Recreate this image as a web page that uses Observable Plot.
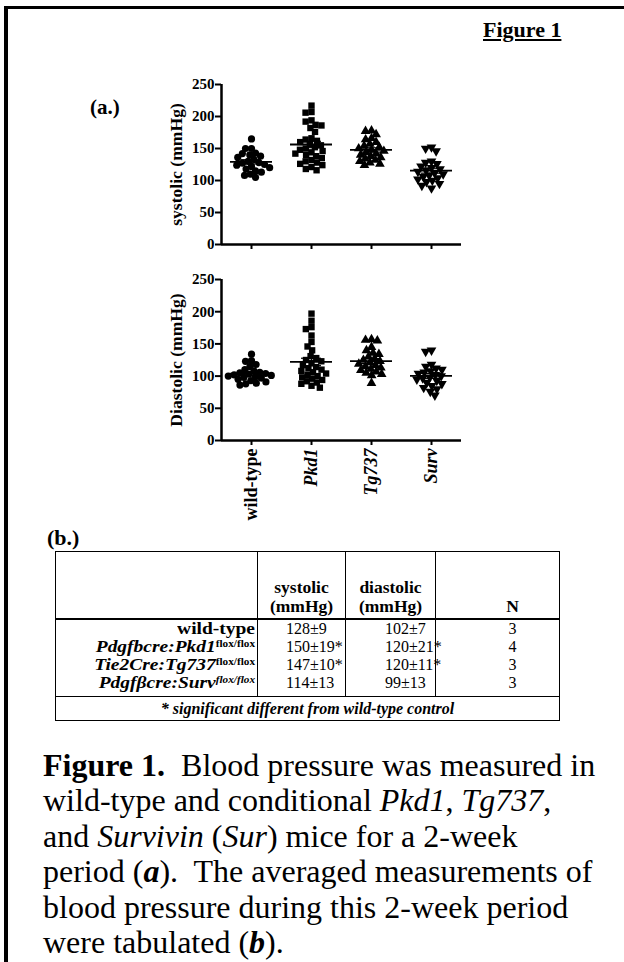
<!DOCTYPE html>
<html><head><meta charset="utf-8">
<script src="https://cdn.jsdelivr.net/npm/d3@7"></script>
<script src="https://cdn.jsdelivr.net/npm/@observablehq/plot@0.6"></script>
<style>
body{margin:0;background:#fff;}
#page{position:relative;width:624px;height:962px;overflow:hidden;font-family:"Liberation Serif","Times New Roman",serif;color:#000;background:#fff;}
.abs{position:absolute;white-space:nowrap;}
#tbl{position:absolute;left:55px;top:551px;width:504px;border-collapse:collapse;table-layout:fixed;border:1.6px solid #000;}
#tbl td{padding:0;border-left:1.2px solid #000;border-right:1.2px solid #000;white-space:nowrap;}
#tbl tr.head td{height:64px;vertical-align:bottom;line-height:19px;padding-bottom:2px;font-weight:bold;font-size:17.5px;text-align:center;border-bottom:2px solid #000;}
#tbl tr.body td{vertical-align:top;padding-top:0px;padding-bottom:4px;line-height:18px;font-size:16px;}
#tbl tr.body td.lab{text-align:right;padding-right:2px;font-weight:bold;font-size:16.5px;}
#tbl .labline{display:block;height:18px;transform:scaleX(1.18);transform-origin:right center;}
#tbl tr.foot td{height:23px;text-align:center;font-weight:bold;font-style:italic;font-size:16px;border-top:1.5px solid #000;}
#tbl sup{font-size:9.5px;vertical-align:5px;line-height:0;}
</style></head><body>
<div id="page">
  <div class="abs" style="left:4px;top:6px;width:620px;height:3px;background:#000"></div>
  <div class="abs" style="left:4px;top:6px;width:4px;height:956px;background:#000"></div>
  <div class="abs" style="left:483px;top:19px;font-size:22px;line-height:22px;font-weight:bold;text-decoration:underline;">Figure 1</div>
  <div class="abs" style="left:90px;top:97px;font-size:21px;line-height:21px;font-weight:bold;">(a.)</div>
  <div class="abs" id="sys" style="left:0;top:70px"></div>
  <div class="abs" id="dia" style="left:0;top:265px"></div>
  <div class="abs" style="left:47px;top:527px;font-size:22px;line-height:22px;font-weight:bold;">(b.)</div>
  <div id="tblwrap"></div>
  <div class="abs" style="left:43px;top:748px;font-size:32px;line-height:35.4px;">
    <b>Figure 1.</b>&nbsp; Blood pressure was measured in<br>wild-type and conditional <i>Pkd1</i>, <i>Tg737</i>,<br>and <i>Survivin</i> (<i>Sur</i>) mice for a 2-week<br>period (<b><i>a</i></b>).&nbsp; The averaged measurements of<br>blood pressure during this 2-week period<br>were tabulated (<b><i>b</i></b>).
  </div>
</div>
<script>
// ---- data ----
const groups = ["wild-type", "Pkd1", "Tg737", "Surv"];
const sysWT   = [165,150,150,143,142,140,138,136,133,130,128,127,125,124,122,120,118,115,113,110,108,105];
const sysPkd1 = [217,207,206,194,192,187,186,182,176,166,164,162,160,157,155,152,150,148,146,144,142,140,138,135,132,130,128,126,124,121,118,116];
const sysTg737= [178,177,172,166,164,160,157,154,152,150,148,146,144,142,140,138,136,134,132,130,128,126,124];
const sysSurv = [152,150,146,130,128,126,122,120,118,116,114,112,110,108,106,104,102,100,98,95,92,88];
const diaWT   = [134,124,123,118,115,110,108,106,105,104,103,102,101,100,99,98,97,95,93,91,89,88,86];
const diaPkd1 = [197,186,176,173,163,153,146,140,131,128,125,123,120,117,114,112,110,108,106,104,102,100,98,96,94,92,90,88,85,82];
const diaTg737= [157,156,155,145,140,136,134,130,127,125,123,121,119,117,115,113,111,109,107,105,103,101,89];
const diaSurv = [140,138,118,115,112,110,108,106,104,102,100,98,97,95,93,90,88,85,82,80,76,70];
const yTicks = [0,50,100,150,200,250];

const tblRowMain  = ["wild-type", "Pdgfbcre:Pkd1", "Tie2Cre:Tg737", "Pdgfβcre:Surv"];
const tblRowSup   = ["", "flox/flox", "flox/flox", "flox/flox"];
const tblSystolic = ["128±9", "150±19*", "147±10*", "114±13"];
const tblDiastolic= ["102±7", "120±21*", "120±11*", "99±13"];
const tblN        = ["3", "4", "3", "3"];
const tblFooter   = "* significant different from wild-type control";

// ---- chart helpers ----
function records(arrs){ return groups.flatMap((g,i)=>arrs[i].map(v=>({group:g, value:v}))); }
function stats(arrs){
  return groups.map((g,i)=>{const a=arrs[i]; const m=d3.mean(a); const se=d3.deviation(a)/Math.sqrt(a.length);
    return {group:g, mean:m, lo:m-se, hi:m+se};});
}
const s3 = Math.sqrt(3);
const triDown = {draw(ctx,size){const y=-Math.sqrt(size/(s3*3)); ctx.moveTo(0,-2*y); ctx.lineTo(s3*y,y); ctx.lineTo(-s3*y,y); ctx.closePath();}};
const symbols = {"wild-type":"circle", "Pkd1":"square", "Tg737":"triangle", "Surv":triDown};

function chart(arrs, title, showLabels, height, marginBottom){
  const recs = records(arrs), st = stats(arrs);
  const marks = [];
  for (const g of groups) {
    marks.push(Plot.dot(recs.filter(d=>d.group===g),
      Plot.dodgeX({anchor:"middle", padding:-1.2}, {fx:"group", y:"value", r:3.6, symbol:symbols[g], fill:"black", stroke:"none"})));
  }
  const fmt = showLabels ? (d=>d) : (()=> "");
  marks.push(
    Plot.ruleY(st, {fx:"group", y:"mean", insetLeft:9, insetRight:9, strokeWidth:1.8}),
    Plot.ruleY(st, {fx:"group", y:"lo", insetLeft:20, insetRight:20, strokeWidth:1.2}),
    Plot.ruleY(st, {fx:"group", y:"hi", insetLeft:20, insetRight:20, strokeWidth:1.2}),
    Plot.ruleX(st, {fx:"group", x:0.5, y1:"lo", y2:"hi", strokeWidth:1.2}),
    Plot.ruleY([0], {strokeWidth:2.5}),
    Plot.ruleX([groups[0]], {fx:d=>d, x:0, y1:0, y2:250, strokeWidth:2.5}),
    Plot.axisY({ticks:yTicks, tickSize:6, tickPadding:1, fontSize:15, fontWeight:"bold", strokeWidth:2, label:null}),
    Plot.text([title], {fx:()=>groups[0], text:d=>d, frameAnchor:"left", textAnchor:"middle", dx:-45, rotate:-90, fontSize:17.6, fontWeight:"bold"}),
    Plot.axisFx({anchor:"bottom", ticks:[groups[0]], tickSize:5, strokeWidth:2, tickRotate:-90, tickPadding:3, fontSize:18, fontWeight:"bold", label:null, tickFormat:fmt}),
    Plot.axisFx({anchor:"bottom", ticks:groups.slice(1), tickSize:5, strokeWidth:2, tickRotate:-90, tickPadding:3, fontSize:18, fontWeight:"bold", fontStyle:"italic", label:null, tickFormat:fmt})
  );
  return Plot.plot({
    width:480, height, marginLeft:220, marginRight:18, marginTop:14, marginBottom,
    style:{fontFamily:"'Liberation Serif', serif", background:"transparent", overflow:"visible", color:"black"},
    x:{domain:[0,1], axis:null},
    y:{domain:[0,250], axis:null},
    fx:{domain:groups, padding:0, axis:null},
    marks
  });
}

document.getElementById("sys").appendChild(chart([sysWT,sysPkd1,sysTg737,sysSurv], "systolic (mmHg)", false, 186, 12));
document.getElementById("dia").appendChild(chart([diaWT,diaPkd1,diaTg737,diaSurv], "Diastolic (mmHg)", true, 265, 90));

// ---- table ----
const labHtml = tblRowMain.map((m,i)=> `<span class="labline">` + (i===0 ? m :
  `<i>${m}</i><sup${i===3?' style="font-style:italic"':''}>${tblRowSup[i]}</sup>`) + `</span>`).join("");
document.getElementById("tblwrap").innerHTML = `
<table id="tbl">
<colgroup><col style="width:202px"><col style="width:88px"><col style="width:90px"><col style="width:124px"></colgroup>
<tr class="head"><td></td><td>systolic<br>(mmHg)</td><td>diastolic<br>(mmHg)</td><td style="padding-left:30px">N</td></tr>
<tr class="body"><td class="lab">${labHtml}</td>
<td style="padding-left:28px">${tblSystolic.join("<br>")}</td>
<td style="padding-left:39px">${tblDiastolic.join("<br>")}</td>
<td style="padding-left:30px;text-align:center">${tblN.join("<br>")}</td></tr>
<tr class="foot"><td colspan="4">${tblFooter}</td></tr>
</table>`;
</script>
</body></html>
